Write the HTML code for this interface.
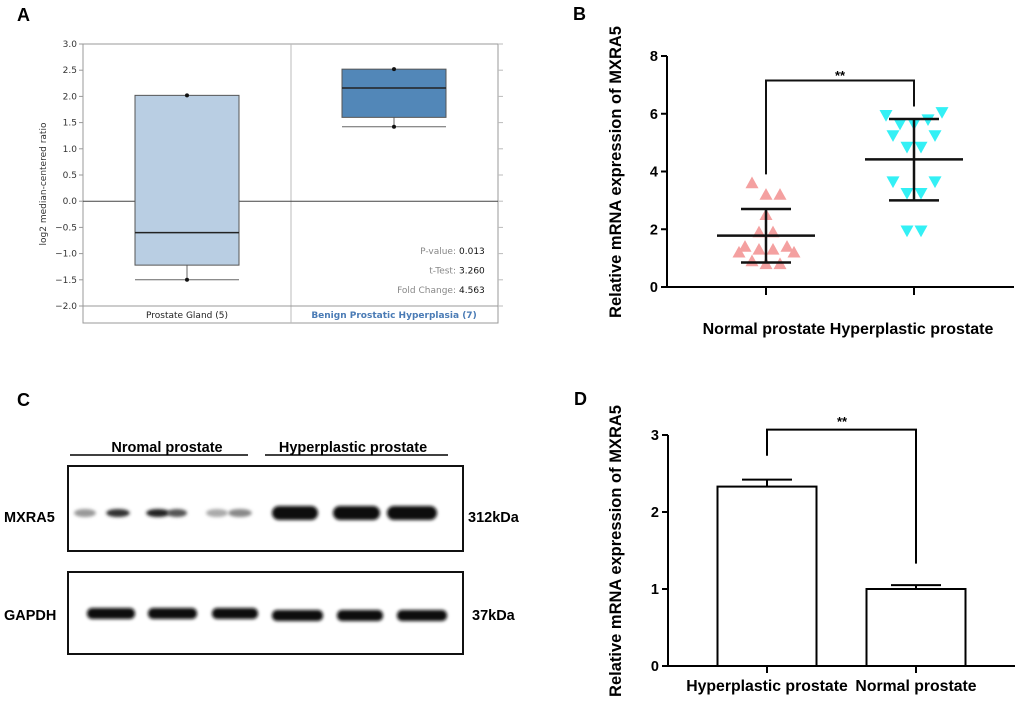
<!DOCTYPE html>
<html><head><meta charset="utf-8"><style>
body{margin:0;background:#fff;width:1020px;height:702px;overflow:hidden}
svg{display:block}
.b{font-family:"Liberation Sans",Arial,sans-serif;font-weight:bold}
.s{font-family:"DejaVu Sans","Liberation Sans",sans-serif;font-size:9px}
</style></head><body>
<svg id="fig" width="1020" height="702" xmlns="http://www.w3.org/2000/svg">
<text class="b" x="17" y="21" font-size="18">A</text>
<text class="b" x="573" y="20" font-size="18">B</text>
<text class="b" x="17" y="406" font-size="18">C</text>
<text class="b" x="574" y="405" font-size="18">D</text>
<g id="pa"></g>
<g id="pb"></g>
<g id="pc"></g>
<g id="pd"></g>
</svg>
<script>
// ---- Panel A data ----
const aCats = ["Prostate Gland (5)", "Benign Prostatic Hyperplasia (7)"];
const aMin = [-1.5, 1.42];
const aQ1 = [-1.22, 1.6];
const aMed = [-0.6, 2.16];
const aQ3 = [2.02, 2.52];
const aMax = [2.02, 2.52];
const aTicks = [3.0,2.5,2.0,1.5,1.0,0.5,0.0,-0.5,-1.0,-1.5,-2.0];
const aStats = [["P-value:","0.013"],["t-Test:","3.260"],["Fold Change:","4.563"]];
// ---- Panel B data ----
const bCats = ["Normal prostate", "Hyperplastic prostate"];
const bNormal = [3.6,3.2,3.2,2.5,1.9,1.9,1.2,1.4,1.3,1.3,1.4,1.2,0.9,0.8,0.8];
const bNormalJit = [-14,0,14,0,-7,7,-27,-21,-7,7,21,28,-14,0,14];
const bHyper = [5.95,6.05,5.65,5.65,5.8,5.25,5.25,4.85,4.85,3.65,3.65,3.25,3.25,1.95,1.95];
const bHyperJit = [-28,28,-14,0,14,-21,21,-7,7,-21,21,-7,7,-7,7];
const bMean = [1.78, 4.42];
const bSdHi = [2.7, 5.82];
const bSdLo = [0.85, 3.0];
const bTicks = [0,2,4,6,8];
// ---- Panel D data ----
const dCats = ["Hyperplastic prostate", "Normal prostate"];
const dVals = [2.33, 1.0];
const dErr = [0.09, 0.05];
const dTicks = [0,1,2,3];

const NS="http://www.w3.org/2000/svg";
function mk(parent,tag,attrs,text){const e=document.createElementNS(NS,tag);for(const k in attrs)e.setAttribute(k,attrs[k]);if(text!==undefined)e.textContent=text;parent.appendChild(e);return e;}

// ===== Panel A =====
(function(){
const g=document.getElementById('pa');
const L=83,R=498,T=44,B=306,BOT=323;
const y=v=>T+(3-v)/5*(B-T);
const cx=i=>[187,394][i];
mk(g,'rect',{x:L,y:T,width:R-L,height:BOT-T,fill:'#fff',stroke:'#999','stroke-width':1});
mk(g,'line',{x1:291,y1:T,x2:291,y2:BOT,stroke:'#bbb'});
mk(g,'line',{x1:L,y1:B,x2:R,y2:B,stroke:'#999'});
aTicks.forEach(t=>{
 const tk=mk(g,'line',{x1:L-4,y1:y(t),x2:L,y2:y(t),stroke:'#999'});
 
 
 mk(g,'line',{x1:R,y1:y(t),x2:R+5,y2:y(t),stroke:'#bbb'});
 const lb=mk(g,'text',{x:L-6,y:y(t)+3,'text-anchor':'end',class:'s',fill:'#333'},t.toFixed(1).replace('-','\u2212'));
 
 
});
mk(g,'line',{x1:L,y1:y(0),x2:R,y2:y(0),stroke:'#444'});
const yt=mk(g,'text',{x:0,y:0,transform:'translate(46,184) rotate(-90)','text-anchor':'middle',class:'s',fill:'#333','font-size':9.5},'log2 median-centered ratio');


const fills=['#b9cee3','#5287b8'];
aCats.forEach((c,i)=>{
 const x=cx(i),w=104;
 mk(g,'line',{x1:x,y1:y(aQ1[i]),x2:x,y2:y(aMin[i]),stroke:'#666'});
 mk(g,'line',{x1:x-w/2,y1:y(aMin[i]),x2:x+w/2,y2:y(aMin[i]),stroke:'#666'});
 const bx=mk(g,'rect',{x:x-w/2,y:y(aQ3[i]),width:w,height:y(aQ1[i])-y(aQ3[i]),fill:fills[i],stroke:'#555','stroke-width':1});
 
 
 mk(g,'line',{x1:x-w/2,y1:y(aMed[i]),x2:x+w/2,y2:y(aMed[i]),stroke:'#222','stroke-width':1.5});
 mk(g,'circle',{cx:x,cy:y(aMax[i]),r:2,fill:'#111'});
 mk(g,'circle',{cx:x,cy:y(aMin[i]),r:2,fill:'#111'});
 const cl=mk(g,'text',{x:x,y:318,'text-anchor':'middle',class:'s',fill:i?'#4a7bb5':'#222','font-weight':i?'bold':'normal'},c);
 
 
});
aStats.forEach((s,i)=>{
 mk(g,'text',{x:456,y:254+i*19.5,'text-anchor':'end',class:'s',fill:'#888'},s[0]);
 mk(g,'text',{x:459,y:254+i*19.5,class:'s',fill:'#111'},s[1]);
});
})();

// ===== Panel B =====
(function(){
const g=document.getElementById('pb');
const L=667,T=56,B=287,R=1014;
const y=v=>B-v/8*(B-T);
const cx=[766,914];
mk(g,'line',{x1:L,y1:T,x2:L,y2:B,stroke:'#000','stroke-width':2});
mk(g,'line',{x1:L-2,y1:B,x2:R,y2:B,stroke:'#000','stroke-width':2});
bTicks.forEach(t=>{
 mk(g,'line',{x1:L-6,y1:y(t),x2:L,y2:y(t),stroke:'#000','stroke-width':2});
 const lb=mk(g,'text',{x:L-9,y:y(t)+5,'text-anchor':'end',class:'b','font-size':14.5},t);
 
 
});
cx.forEach(x=>mk(g,'line',{x1:x,y1:B,x2:x,y2:B+8,stroke:'#000','stroke-width':2}));
const xl=mk(g,'text',{x:848,y:334,'text-anchor':'middle',class:'b','font-size':16},bCats.join(' '));


const yt=mk(g,'text',{x:0,y:0,transform:'translate(621,172) rotate(-90)','text-anchor':'middle',class:'b','font-size':16.5},'Relative mRNA expression of MXRA5');


const s=6.5;
bNormal.forEach((v,i)=>{
 const x=cx[0]+bNormalJit[i],yy=y(v);
 const p=mk(g,'polygon',{points:`${x},${yy-s} ${x-s},${yy+s*0.8} ${x+s},${yy+s*0.8}`,fill:'#f4a0a0'});
 
 
});
bHyper.forEach((v,i)=>{
 const x=cx[1]+bHyperJit[i],yy=y(v);
 const p=mk(g,'polygon',{points:`${x},${yy+s} ${x-s},${yy-s*0.8} ${x+s},${yy-s*0.8}`,fill:'#33f0f5'});
 
 
});
[0,1].forEach(i=>{
 const x=cx[i];
 mk(g,'line',{x1:x,y1:y(bSdHi[i]),x2:x,y2:y(bSdLo[i]),stroke:'#111','stroke-width':2.5});
 const m=mk(g,'line',{x1:x-49,y1:y(bMean[i]),x2:x+49,y2:y(bMean[i]),stroke:'#111','stroke-width':2.5});
 
 
 [bSdHi[i],bSdLo[i]].forEach(v=>mk(g,'line',{x1:x-25,y1:y(v),x2:x+25,y2:y(v),stroke:'#111','stroke-width':2.5}));
});
mk(g,'polyline',{points:`${cx[0]},${y(3.9)} ${cx[0]},${y(7.15)} ${cx[1]},${y(7.15)} ${cx[1]},${y(6.25)}`,fill:'none',stroke:'#111','stroke-width':2});
mk(g,'text',{x:840,y:80,'text-anchor':'middle',class:'b','font-size':13},'**');
})();

// ===== Panel C =====
(function(){
const g=document.getElementById('pc');
mk(g,'defs',{}).innerHTML='<filter id="bl" x="-20%" y="-50%" width="140%" height="200%"><feGaussianBlur stdDeviation="1.6"/></filter>';
mk(g,'text',{x:167,y:452,'text-anchor':'middle',class:'b','font-size':14.5},'Nromal prostate');
mk(g,'text',{x:353,y:452,'text-anchor':'middle',class:'b','font-size':14.5},'Hyperplastic prostate');
mk(g,'line',{x1:70,y1:455,x2:248,y2:455,stroke:'#000','stroke-width':1.5});
mk(g,'line',{x1:265,y1:455,x2:448,y2:455,stroke:'#000','stroke-width':1.5});
mk(g,'rect',{x:68,y:466,width:395,height:85,fill:'#fff',stroke:'#111','stroke-width':2});
mk(g,'rect',{x:68,y:572,width:395,height:82,fill:'#fff',stroke:'#111','stroke-width':2});
mk(g,'text',{x:4,y:522,class:'b','font-size':14.5},'MXRA5');
mk(g,'text',{x:4,y:620,class:'b','font-size':14.5},'GAPDH');
mk(g,'text',{x:468,y:522,class:'b','font-size':14.5},'312kDa');
mk(g,'text',{x:472,y:620,class:'b','font-size':14.5},'37kDa');
const faint=[[85,12,'#999'],[118,13,'#333'],[158,13,'#222'],[177,11,'#555'],[217,12,'#aaa'],[240,13,'#888']];
faint.forEach(b=>mk(g,'ellipse',{cx:b[0],cy:513,rx:b[1]/1.1,ry:4,fill:b[2],filter:'url(#bl)'}));
[[272,318],[333,380],[387,437]].forEach(b=>mk(g,'rect',{x:b[0],y:506,width:b[1]-b[0],height:14,rx:7,fill:'#0a0a0a',filter:'url(#bl)'}));
[[87,135],[148,197],[212,258],[272,323],[337,383],[397,447]].forEach((b,i)=>mk(g,'rect',{x:b[0],y:i<3?608:610,width:b[1]-b[0],height:11,rx:5,fill:'#0a0a0a',filter:'url(#bl)'}));
})();

// ===== Panel D =====
(function(){
const g=document.getElementById('pd');
const L=668,T=435,B=666,R=1015;
const y=v=>B-v/3*(B-T);
const cx=[767,916],bw=99;
mk(g,'line',{x1:L,y1:T,x2:L,y2:B,stroke:'#000','stroke-width':2});
mk(g,'line',{x1:L-6,y1:B,x2:R,y2:B,stroke:'#000','stroke-width':2});
dTicks.forEach(t=>{
 mk(g,'line',{x1:L-6,y1:y(t),x2:L,y2:y(t),stroke:'#000','stroke-width':2});
 const lb=mk(g,'text',{x:L-9,y:y(t)+5,'text-anchor':'end',class:'b','font-size':14.5},t);
 
 
});
dVals.forEach((v,i)=>{
 const x=cx[i];
 mk(g,'line',{x1:x,y1:y(v),x2:x,y2:y(v+dErr[i]),stroke:'#000','stroke-width':2});
 mk(g,'line',{x1:x-25,y1:y(v+dErr[i]),x2:x+25,y2:y(v+dErr[i]),stroke:'#000','stroke-width':2});
 const r=mk(g,'rect',{x:x-bw/2,y:y(v),width:bw,height:B-y(v),fill:'#fff',stroke:'#000','stroke-width':2});
 
 
 mk(g,'line',{x1:x,y1:B,x2:x,y2:B+7,stroke:'#000','stroke-width':2});
 const lb=mk(g,'text',{x:x,y:691,'text-anchor':'middle',class:'b','font-size':15.8},dCats[i]);
 
 
});
const yt=mk(g,'text',{x:0,y:0,transform:'translate(621,551) rotate(-90)','text-anchor':'middle',class:'b','font-size':16.5},'Relative mRNA expression of MXRA5');


mk(g,'polyline',{points:`${cx[0]},${y(2.73)} ${cx[0]},${y(3.07)} ${cx[1]},${y(3.07)} ${cx[1]},${y(1.33)}`,fill:'none',stroke:'#000','stroke-width':2});
mk(g,'text',{x:842,y:426,'text-anchor':'middle',class:'b','font-size':13},'**');
})();
</script>
</body></html>
